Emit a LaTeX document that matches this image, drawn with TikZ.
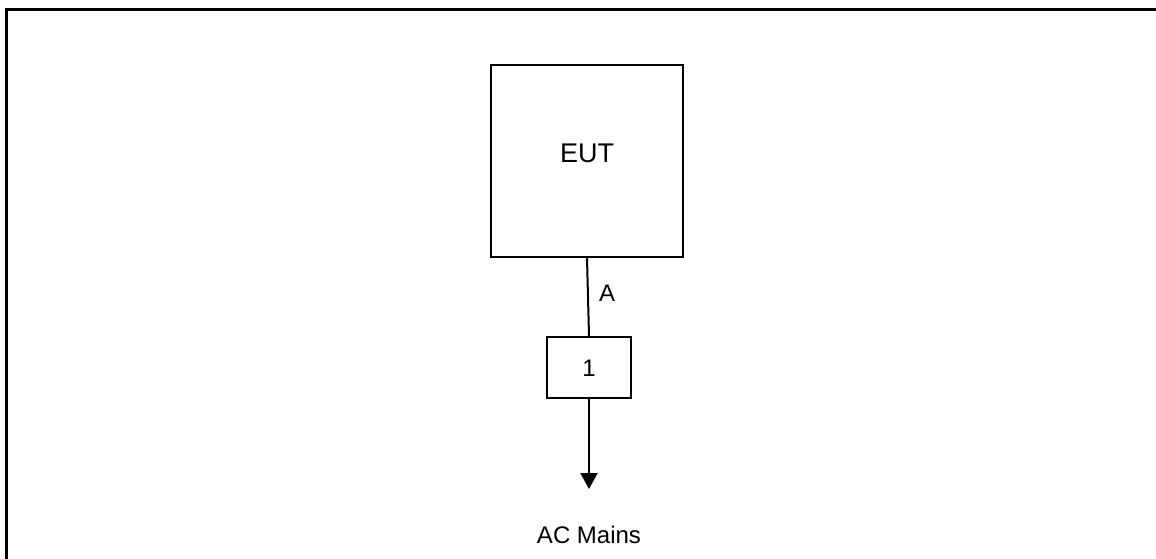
\documentclass[tikz,border=0pt]{standalone}
\usepackage{fontspec}
\setmainfont{Liberation Sans}
\usetikzlibrary{arrows.meta}
\begin{document}
\begin{tikzpicture}[x=1pt,y=-1pt,
  box/.style={draw,line width=2pt,rectangle,inner sep=0pt},
  lbl/.style={font=\fontsize{24}{27}\selectfont,inner sep=0pt},
  biglbl/.style={font=\fontsize{27}{30}\selectfont,inner sep=0pt},
  wire/.style={line width=2pt},
  frame/.style={line width=3pt}]
\useasboundingbox (0,0) rectangle (1156,559);
\draw[frame] (6.5,560) -- (6.5,9.5) -- (1157,9.5);
\node[box,minimum width=192pt,minimum height=192pt] (eut) at (587,161) {};
\node[biglbl] (euttext) at (587,153) {EUT};
\node[box,minimum width=84pt,minimum height=61pt] (b1) at (589,367.5) {};
\node[lbl] (onetext) at (589,368) {1};
\draw[wire] (eut.south) -- (b1.north);
\node[lbl] (alabel) at (607,293) {A};
\coordinate (tip) at (589,489);
\draw[wire,-{Triangle[length=16pt,width=17pt]}] (b1.south) -- (tip);
\node[lbl] (acmains) at (589,535) {AC Mains};
\end{tikzpicture}
\end{document}
